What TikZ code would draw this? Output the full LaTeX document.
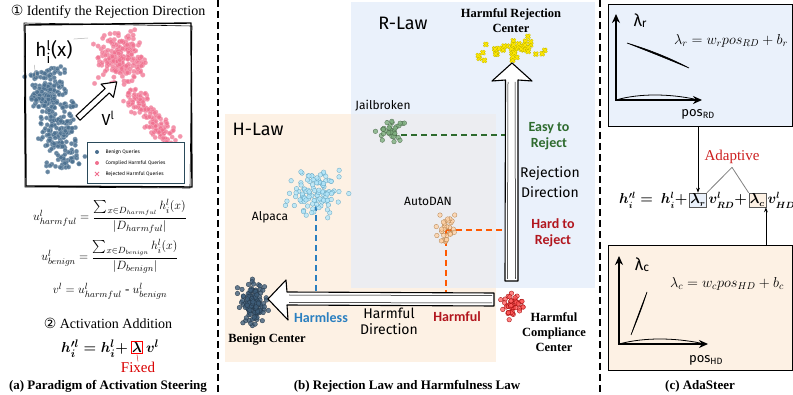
\documentclass[tikz,border=0pt]{standalone}
\usepackage{amsmath}
\usepackage{amssymb}
\usepackage{fontspec}
\setmainfont{Liberation Serif}
\newfontfamily\handfont{Fira Sans}
\newfontfamily\tagfont{Carlito}
\newfontfamily\symfont{DejaVu Sans}
\usepackage{tikz}
\usetikzlibrary{positioning, arrows.meta, calc}

\definecolor{rlawblue}{HTML}{EAF1FB}
\definecolor{hlaworange}{HTML}{FDF1E4}
\definecolor{overlapgrey}{HTML}{ECEDF1}
\definecolor{easygreen}{HTML}{2E6B2E}
\definecolor{hardred}{HTML}{B2161E}
\definecolor{harmlessblue}{HTML}{2A7FC0}
\definecolor{adaptred}{HTML}{CC1F1F}
\definecolor{benigndot}{HTML}{4A6F8F}
\definecolor{harmdot}{HTML}{F0708F}
\definecolor{legendframe}{HTML}{2A4A5A}
\definecolor{jailgreen}{HTML}{7FAF7F}

\tikzset{
  sepline/.style={line width=1.6pt, dash pattern=on 7pt off 4pt},
  steptitle/.style={font=\fontsize{14}{16}\selectfont},
  subcap/.style={font=\bfseries\fontsize{13}{15}\selectfont},
  centertag/.style={font=\bfseries\fontsize{12.5}{15}\selectfont, align=center},
  clusterlbl/.style={font=\handfont\fontsize{12}{16}\selectfont, align=center},
  lawlbl/.style={font=\handfont\fontsize{18}{20}\selectfont},
  signal/.style={font=\tagfont\bfseries\fontsize{14}{16}\selectfont, align=center},
  hollow/.style={draw, line width=1.1pt, fill=white, line join=round},
  guide/.style={line width=1.7pt, dash pattern=on 6pt off 4pt},
  axisarrow/.style={line width=1.6pt, -{Stealth[length=9pt, width=8pt]}},
  lambox/.style={draw, inner sep=1pt},
  feed/.style={-{Stealth[length=5pt]}, line width=0.8pt},
  eqtxt/.style={inner sep=0.5pt},
  meanformula/.style={font=\fontsize{13}{15}\selectfont},
  tsneblue/.style={fill=benigndot, draw=benigndot!60!white, line width=0.3pt, fill opacity=0.85},
  tsnepink/.style={fill=harmdot, draw=harmdot!60!white, line width=0.3pt, fill opacity=0.75},
  jaildot/.style={fill=jailgreen, draw=jailgreen!60!black, line width=0.3pt, fill opacity=0.8},
  alpacadot/.style={fill=cyan!30!white, draw=cyan!50!gray, line width=0.3pt, fill opacity=0.8},
  autodot/.style={fill=orange!35!white, draw=orange!40!gray, line width=0.3pt, fill opacity=0.8},
  compdot/.style={fill=red!65!white, draw=red!60!black, line width=0.3pt, fill opacity=0.75},
  benigncdot/.style={fill=benigndot!85!black, draw=benigndot!50!black, line width=0.3pt, fill opacity=0.8},
}

\newcommand{\dotcloud}[6]{%
  \foreach \k in {1,...,#5}{%
    \pgfmathsetmacro{\cdx}{#3*(rand+rand+rand)*0.58}%
    \pgfmathsetmacro{\cdy}{#4*(rand+rand+rand)*0.58}%
    \path[#6] (#1+\cdx,#2+\cdy) circle (2.3pt);
  }}
\newcommand{\dotband}[7]{%
  \pgfmathsetmacro{\bandlen}{veclen(#3-#1,#4-#2)}%
  \foreach \k in {1,...,#6}{%
    \pgfmathsetmacro{\bandt}{rnd}%
    \pgfmathsetmacro{\bandw}{#5*(rand+rand)*0.5}%
    \pgfmathsetmacro{\bpx}{#1+\bandt*(#3-#1)-\bandw*(#4-#2)/\bandlen}%
    \pgfmathsetmacro{\bpy}{#2+\bandt*(#4-#2)+\bandw*(#3-#1)/\bandlen}%
    \path[#7] (\bpx,\bpy) circle (2.2pt);
  }}
\newcommand{\crosscloud}[5]{%
  \foreach \k in {1,...,#5}{%
    \pgfmathsetmacro{\cdx}{#3*(rand+rand+rand)*0.58}%
    \pgfmathsetmacro{\cdy}{#4*(rand+rand+rand)*0.58}%
    \draw[line width=2.3pt, yellow!45!olive] (#1+\cdx,#2+\cdy) +(-2,-2) -- +(2,2) +(-2,2) -- +(2,-2);
    \draw[line width=1.2pt, yellow!90!orange] (#1+\cdx,#2+\cdy) +(-2,-2) -- +(2,2) +(-2,2) -- +(2,-2);
  }}

\begin{document}
\begin{tikzpicture}[x=1pt, y=-1pt]
  \useasboundingbox (0,0) rectangle (793,395);
  \pgfmathsetseed{11}

  \draw[sepline] (218,0) -- (218,395);
  \draw[sepline] (600,0) -- (600,395);

  % (a) activation steering
  \node[steptitle] (step1) at (108,12) {{\symfont ①} Identify the Rejection Direction};
  \dotband{44}{70}{68}{168}{24}{300}{tsneblue}
  \dotcloud{42}{95}{9}{9}{40}{tsneblue}
  \dotcloud{120}{58}{20}{20}{200}{tsnepink}
  \dotband{130}{90}{172}{145}{14}{150}{tsnepink}
  \draw[line width=1.4pt, line join=round] (25,25) -- (191,23) -- (192,187) -- (26,186) -- cycle;
  \draw[line width=0.6pt] (24,23) -- (192,26) -- (190,188) -- (25,187) -- cycle;
  \node[font=\handfont\fontsize{19}{21}\selectfont, inner sep=1pt] (hlabel) at (54,52) {h$^{\text{l}}_{\text{i}}$(x)};
  \draw[gray!60, line width=0.5pt] (hlabel.north east) -- (88,38);
  \draw[gray!60, line width=0.5pt] (hlabel.south west) -- (36,78);
  \begin{scope}[shift={(78,118)}, rotate=43]
    \draw[hollow] (0,-3) -- (40,-3) -- (40,-9) -- (53,0) -- (40,9) -- (40,3) -- (0,3) -- cycle;
  \end{scope}
  \node[font=\handfont\fontsize{16}{18}\selectfont] (vlabel) at (108,118) {V$^{\text{l}}$};
  \node[draw=legendframe, line width=0.9pt, fill=white, anchor=north west,
        minimum width=97pt, minimum height=41pt] (legend) at (87,142) {};
  \fill[benigndot] (97,152) circle (2pt);
  \fill[harmdot] (97,163) circle (2pt);
  \draw[harmdot, line width=1pt] (95,172) -- (99,176) (95,176) -- (99,172);
  \node[font=\handfont\fontsize{5}{6}\selectfont, anchor=west] (lg1) at (102,152) {Benign Queries};
  \node[font=\handfont\fontsize{5}{6}\selectfont, anchor=west] (lg2) at (102,163) {Complied Harmful Queries};
  \node[font=\handfont\fontsize{5}{6}\selectfont, anchor=west] (lg3) at (102,174) {Rejected Harmful Queries};

  \node[meanformula] (uharm) at (110,216)
    {$u^{l}_{harmful} = \dfrac{\sum_{x\in D_{harmful}} h^{l}_{i}(x)}{|D_{harmful}|}$};
  \node[meanformula] (ubenign) at (110,256)
    {$u^{l}_{benign} = \dfrac{\sum_{x\in D_{benign}} h^{l}_{i}(x)}{|D_{benign}|}$};
  \node[meanformula] (vdiff) at (110,291)
    {$v^{l} = u^{l}_{harmful}$ - $u^{l}_{benign}$};
  \node[steptitle] (step2) at (108,323) {{\symfont ②} Activation Addition};
  \node[lambox, draw=red, line width=1pt, font=\fontsize{15}{17}\selectfont] (lamfix) at (137,348) {$\boldsymbol{\lambda}$};
  \node[eqtxt, left=2pt of lamfix.base west, anchor=base east, font=\fontsize{15}{17}\selectfont] (fixL)
    {$\boldsymbol{h^{\prime l}_{i} = h^{l}_{i} +}$};
  \node[eqtxt, right=2pt of lamfix.base east, anchor=base west, font=\fontsize{15}{17}\selectfont] (fixR)
    {$\boldsymbol{v^{l}}$};
  \node[red!85!black, font=\fontsize{15}{17}\selectfont, inner sep=0pt] (fixtag) at (138,367) {Fixed};
  \draw[red!85!black, line width=0.4pt] (lamfix.south) -- (fixtag.north);
  \node[subcap] (capa) at (108,386) {(a) Paradigm of Activation Steering};

  % (b) rejection law and harmfulness law
  \fill[rlawblue] (351,2) rectangle (595,288);
  \fill[hlaworange] (225,114) rectangle (496,362);
  \fill[overlapgrey] (351,114) rectangle (496,288);
  \node[lawlbl] (rlaw) at (403,23) {R-Law};
  \node[lawlbl] (hlaw) at (258,129) {H-Law};

  \coordinate (rejc) at (511,50);
  \coordinate (jail) at (391,135);
  \coordinate (alpaca) at (316,193);
  \coordinate (autodan) at (446,230);
  \coordinate (compc) at (512,306);
  \coordinate (benc) at (253,302);

  \draw[guide, easygreen] (jail) -- (506,135);
  \draw[guide, harmlessblue] (alpaca |- 0,205) -- (316,292);
  \draw[guide, orange!70!red] (autodan) -- (506,230);
  \draw[guide, orange!70!red] (autodan) -- (446,292);

  \crosscloud{510}{50}{27}{10}{45}
  \dotcloud{391}{134}{11}{10.5}{35}{jaildot}
  \dotcloud{316}{192}{21}{18}{110}{alpacadot}
  \dotcloud{446}{228}{9}{12}{35}{autodot}
  \dotcloud{512}{305}{9}{10}{45}{compdot}
  \dotcloud{253}{302}{12}{16}{130}{benigncdot}

  \draw[hollow] (505,281) -- (505.5,80) -- (492,81) -- (512,63) -- (532,81) -- (518,80) -- (518,281) -- cycle;
  \draw[line width=0.5pt] (507.5,279) -- (508,82) (515.5,279) -- (515,82);
  \draw[hollow] (494,293) -- (287,292) -- (286,280) -- (268,299) -- (288,320) -- (287,305) -- (494,306) -- cycle;
  \draw[line width=0.5pt] (492,295.5) -- (289,295) (492,303) -- (289,302.5);

  \node[centertag] (rejtag) at (511,21) {Harmful Rejection\\Center};
  \node[clusterlbl] (jaillbl) at (383,106) {Jailbroken};
  \node[clusterlbl] (alpacalbl) at (270,217) {Alpaca};
  \node[clusterlbl] (autolbl) at (428,201) {AutoDAN};
  \node[signal, easygreen] (easy) at (549,136) {Easy to\\Reject};
  \node[clusterlbl, font=\handfont\fontsize{14}{20}\selectfont] (rdir) at (550,182) {Rejection\\Direction};
  \node[signal, hardred] (hard) at (553,233) {Hard to\\Reject};
  \node[centertag] (comptag) at (554,332) {Harmful\\Compliance\\Center};
  \node[centertag] (bentag) at (267,340) {Benign Center};
  \node[signal, harmlessblue] (harmless) at (321,318) {Harmless};
  \node[clusterlbl, font=\handfont\fontsize{14}{16}\selectfont] (hdir) at (389,321) {Harmful\\Direction};
  \node[signal, hardred] (harmful) at (457,317) {Harmful};
  \node[subcap] (capb) at (407,386) {(b) Rejection Law and Harmfulness Law};

  % (c) AdaSteer
  \node[draw, line width=0.9pt, fill=rlawblue, anchor=north west,
        minimum width=184pt, minimum height=122pt] (rbox) at (608,4) {};
  \draw[axisarrow] (616,100) -- (616,14);
  \draw[axisarrow] (615,100) -- (702,100);
  \draw[line width=0.8pt] (616,100) .. controls (640,93) and (670,94) .. (694,99);
  \draw[line width=0.6pt, fill=black] (627,43) .. controls (650,52) and (670,60) .. (689,68)
    .. controls (670,58) and (650,50) .. (627,43);
  \node[font=\handfont\fontsize{17}{18}\selectfont] (lamr) at (640,21) {λ\raisebox{-1pt}{\fontsize{12}{12}\selectfont r}};
  \node[font=\handfont\fontsize{13}{14}\selectfont] (posrd) at (698,114) {pos\textsubscript{RD}};
  \node[font=\fontsize{14.5}{16}\selectfont] (eqr) at (731,41) {$\lambda_r = w_r pos_{RD} + b_r$};

  \node[lambox, fill=rlawblue, draw=gray!70!black, font=\fontsize{13.5}{15}\selectfont] (lr) at (698,200) {$\boldsymbol{\lambda_r}$};
  \node[eqtxt, left=1pt of lr.base west, anchor=base east, font=\fontsize{13.5}{15}\selectfont] (adaL)
    {$\boldsymbol{h^{\prime l}_{i} =\ h^{l}_{i} +}$};
  \node[eqtxt, right=1pt of lr.base east, anchor=base west, font=\fontsize{13.5}{15}\selectfont] (adaM)
    {$\boldsymbol{v^{l}_{RD} +}$};
  \node[lambox, fill=hlaworange, draw=gray!70!black, right=1pt of adaM.base east, anchor=base west,
        font=\fontsize{13.5}{15}\selectfont] (lc) {$\boldsymbol{\lambda_c}$};
  \node[eqtxt, right=1pt of lc.base east, anchor=base west, font=\fontsize{13.5}{15}\selectfont] (adaR)
    {$\boldsymbol{v^{l}_{HD}}$};
  \node[adaptred, font=\fontsize{15}{17}\selectfont] (adapt) at (732,157) {Adaptive};
  \draw[gray, line width=0.8pt] (adapt.south) -- (lr.north east);
  \draw[gray, line width=0.8pt] (adapt.south) -- (lc.north west);

  \node[draw, line width=0.9pt, fill=hlaworange, anchor=north west,
        minimum width=184pt, minimum height=125pt] (cbox) at (608,245) {};
  \draw[feed] (rbox.south -| lr.north) -- (lr.north);
  \draw[feed] (cbox.north -| lc.south east) -- (lc.south east);
  \draw[axisarrow] (619,344) -- (619,256);
  \draw[axisarrow] (618,344) -- (708,344);
  \draw[line width=0.8pt] (619,344) .. controls (645,337) and (675,338) .. (700,343);
  \draw[line width=0.6pt, fill=black] (631,335) .. controls (637,318) and (642,305) .. (647,292)
    .. controls (643,305) and (638,318) .. (631,335);
  \node[font=\handfont\fontsize{17}{18}\selectfont] (lamc) at (642,265) {λ\raisebox{-1pt}{\fontsize{12}{12}\selectfont c}};
  \node[font=\handfont\fontsize{13}{14}\selectfont] (poshd) at (706,360) {pos\textsubscript{HD}};
  \node[font=\fontsize{14.5}{16}\selectfont] (eqc) at (727,284) {$\lambda_c = w_c pos_{HD} + b_c$};
  \node[subcap] (capc) at (700,386) {(c) AdaSteer};
\end{tikzpicture}
\end{document}
